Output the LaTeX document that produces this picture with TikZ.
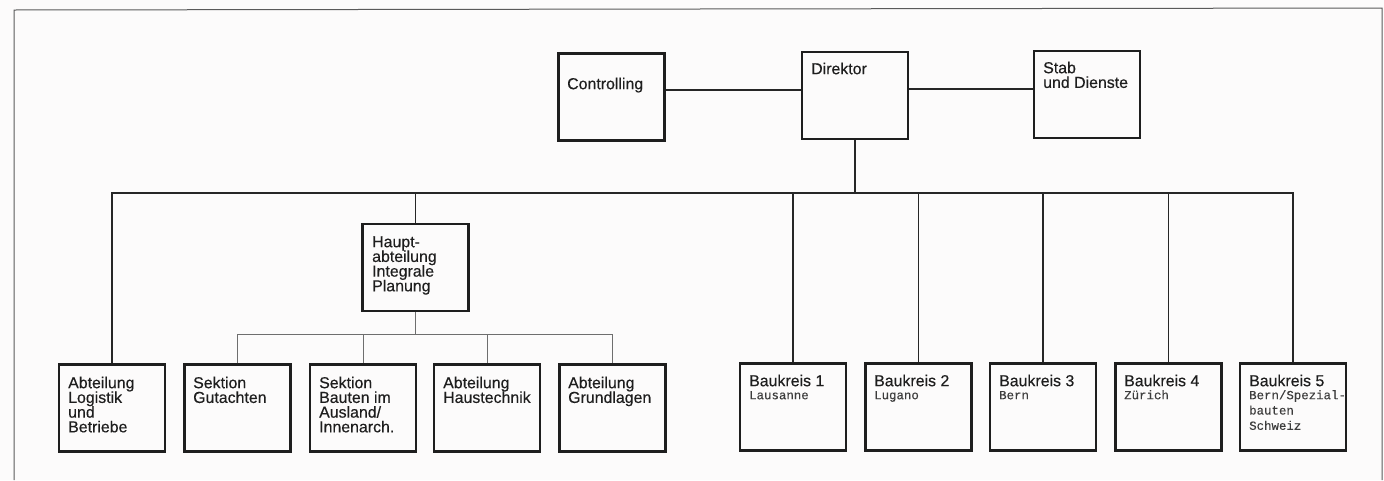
\documentclass[tikz,border=0pt]{standalone}
\usepackage{fontspec}
\setmainfont{Liberation Sans}[FakeBold=0.35]
\newfontfamily\monofam{Liberation Mono}[FakeBold=0.2]
\usetikzlibrary{calc}
\definecolor{ink}{HTML}{1E1E1E}
\definecolor{lineink}{HTML}{262626}
\definecolor{thinink}{HTML}{6E6E6E}
\definecolor{monoink}{HTML}{3C3C3C}
\definecolor{paper}{HTML}{FCFBFB}
\definecolor{framec}{HTML}{5A5A5A}
\newcommand{\sfirst}{\rule{0pt}{12pt}}
\newcommand{\mfirst}{\rule{0pt}{10pt}}
\newcommand{\tightsans}{\fontsize{15.9}{14.7}\selectfont\lineskiplimit-100pt\relax}
\newcommand{\tightmono}{\monofam\fontsize{12.4}{15.3}\selectfont\lineskiplimit-100pt\relax}
\tikzset{
  orgbox/.style={draw=ink, line width=2.3pt, minimum width=106pt, minimum height=87pt, inner sep=0pt},
  lbl/.style={anchor=north west, inner sep=0pt, align=left, text=ink, font=\tightsans},
  sublbl/.style={anchor=north west, inner sep=0pt, align=left, text=monoink, font=\tightmono},
  conn/.style={draw=lineink, line width=1.5pt},
  thinconn/.style={draw=thinink, line width=0.9pt},
}
\begin{document}
\begin{tikzpicture}[x=1pt,y=-1pt]
\useasboundingbox[fill=paper] (0,0) rectangle (1384,480);
% frame of the page
\draw[framec, line width=1pt] (14,480) -- (14,10) -- (1382,8) -- (1382,480);

% top row
\node[orgbox] (ctrl) at (611.5,97) {};
\node[orgbox] (dir)  at (855,95.5) {};
\node[orgbox] (stab) at (1087,94.5) {};
% main department
\node[orgbox] (haupt) at (415.5,267.5) {};
% bottom-left row
\node[orgbox] (log)   at (112,408) {};
\node[orgbox] (gut)   at (237.5,408) {};
\node[orgbox] (bau)   at (363,408) {};
\node[orgbox] (haus)  at (487,408) {};
\node[orgbox] (grund) at (612.5,408) {};
% Baukreise
\node[orgbox] (bk1) at (793,407) {};
\node[orgbox] (bk2) at (918.5,407) {};
\node[orgbox] (bk3) at (1043,407) {};
\node[orgbox] (bk4) at (1168.5,407) {};
\node[orgbox] (bk5) at (1293,407) {};

% texts
\node[lbl] (t-ctrl)  at (567,77) {\sfirst Controlling};
\node[lbl] (t-dir)   at (811,62) {\sfirst Direktor};
\node[lbl] (t-stab)  at (1043,61) {\sfirst Stab\\und Dienste};
\node[lbl] (t-haupt) at (372,235) {\sfirst Haupt-\\abteilung\\Integrale\\Planung};
\node[lbl] (t-log)   at (68,376) {\sfirst Abteilung\\Logistik\\und\\Betriebe};
\node[lbl] (t-gut)   at (193,376) {\sfirst Sektion\\Gutachten};
\node[lbl] (t-bau)   at (319,376) {\sfirst Sektion\\Bauten im\\Ausland/\\Innenarch.};
\node[lbl] (t-haus)  at (443,376) {\sfirst Abteilung\\Haustechnik};
\node[lbl] (t-grund) at (568,376) {\sfirst Abteilung\\Grundlagen};
\node[lbl] (t-bk1) at (749,374) {\sfirst Baukreis 1};
\node[lbl] (t-bk2) at (874,374) {\sfirst Baukreis 2};
\node[lbl] (t-bk3) at (999,374) {\sfirst Baukreis 3};
\node[lbl] (t-bk4) at (1124,374) {\sfirst Baukreis 4};
\node[lbl] (t-bk5) at (1249,374) {\sfirst Baukreis 5};
\node[sublbl] (s-bk1) at (749,389) {\mfirst Lausanne};
\node[sublbl] (s-bk2) at (874,389) {\mfirst Lugano};
\node[sublbl] (s-bk3) at (999,389) {\mfirst Bern};
\node[sublbl] (s-bk4) at (1124,389) {\mfirst Zürich};
\node[sublbl] (s-bk5) at (1249,389) {\mfirst Bern/Spezial-\\bauten\\Schweiz};

% helper levels
\coordinate (lvlA) at (0,90);
\coordinate (lvlB) at (0,89);
\coordinate (bus)  at (0,193);
\coordinate (sub)  at (0,334);

% top connectors
\draw[conn] (ctrl.east |- lvlA) -- (dir.west |- lvlA);
\draw[conn] (dir.east |- lvlB) -- (stab.west |- lvlB);
\draw[conn] (dir.south) -- (dir.south |- bus);
% main bus
\draw[conn] (log.north) -- (log.north |- bus) -- (bk5.north |- bus) -- (bk5.north);
\draw[conn] (haupt.north |- bus) -- (haupt.north);
\draw[conn] (bk1.north |- bus) -- (bk1.north);
\draw[conn] (bk2.north |- bus) -- (bk2.north);
\draw[conn] (bk3.north |- bus) -- (bk3.north);
\draw[conn] (bk4.north |- bus) -- (bk4.north);
% sub bus under main department
\draw[thinconn] (haupt.south) -- (haupt.south |- sub);
\draw[thinconn] (gut.north) -- (gut.north |- sub) -- (grund.north |- sub) -- (grund.north);
\draw[thinconn] (bau.north |- sub) -- (bau.north);
\draw[thinconn] (haus.north |- sub) -- (haus.north);
\end{tikzpicture}
\end{document}
